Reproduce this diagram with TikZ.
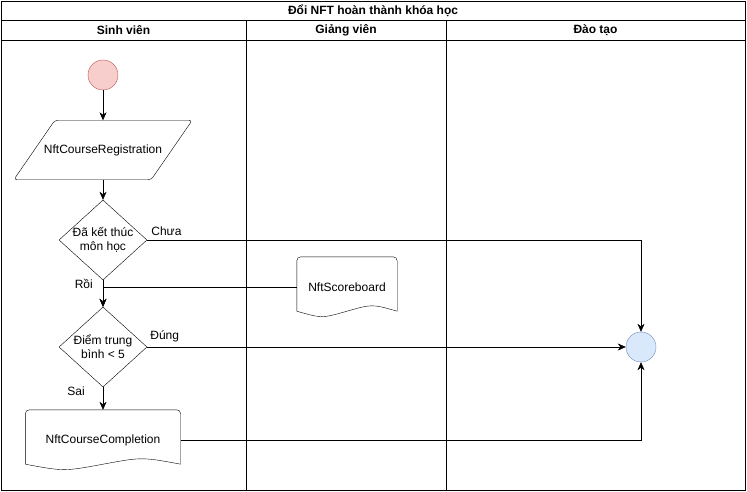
\documentclass[tikz,border=0pt]{standalone}
\usepackage{fontspec}
\setmainfont{Liberation Sans}
\usetikzlibrary{arrows.meta,shapes.geometric,positioning,calc}
\definecolor{startfill}{HTML}{F8CECC}
\definecolor{startline}{HTML}{B85450}
\definecolor{endfill}{HTML}{DAE8FC}
\definecolor{endline}{HTML}{6C8EBF}
\tikzset{
    lane/.style =   {draw=black,
                    line width=0.9pt},
    head/.style =   {font=\fontsize{12}{14}\selectfont\bfseries,
                    text=black,
                    inner sep=0pt},
    startpt/.style = {circle,
                    fill=startfill,
                    draw=startline,
                    minimum size=30pt,
                    inner sep=0pt},
    endpt/.style =  {circle,
                    fill=endfill,
                    draw=endline,
                    minimum size=30pt,
                    inner sep=0pt},
    decide/.style = {diamond,
                    draw=black,
                    minimum width=88pt,
                    minimum height=80pt,
                    inner sep=0pt},
    datain/.style = {rectangle,
                    minimum width=137pt,
                    minimum height=59pt,
                    inner sep=0pt},
    docu/.style =   {rectangle,
                    minimum height=60pt,
                    inner sep=0pt},
    elabel/.style = {inner sep=0pt,
                    text=black},
    -,
    >={Stealth[length=8pt,width=7pt,inset=2.5pt]},
    node distance=75pt}
% slanted input box round a node
\newcommand{\slantbox}[1]{%
    \draw[rounded corners=3pt] ($(#1.north)+(20.5,0)$) -- ($(#1.north east)+(20.5,0)$) -- ($(#1.south east)+(-20.5,0)$)
        -- ($(#1.south west)+(-20.5,0)$) -- ($(#1.north west)+(20.5,0)$) -- ($(#1.north)+(20.5,0)$);}
% document box with a wavy bottom
\newcommand{\wavybox}[1]{%
    \draw[rounded corners=4pt] ($(#1.south west)+(0,6)$) -- (#1.north west) -- (#1.north east) -- ($(#1.south east)+(0,6)$);
    \draw ($(#1.south east)+(0,6)$) .. controls ($(#1.south west)!0.75!(#1.south east)+(0,13.2)$) .. ($(#1.south)+(0,6)$)
        .. controls ($(#1.south west)!0.25!(#1.south east)+(0,-1.2)$) .. ($(#1.south west)+(0,6)$);}

\begin{document}
\begin{tikzpicture}[x=1pt,y=1pt,font=\fontsize{12}{14}\selectfont]
                \useasboundingbox (0,0) rectangle (747,-492);
                % pool and lanes
                \draw[lane] (1,-1) rectangle (745,-490);
                \draw[lane] (1,-20) -- (745,-20);
                \draw[lane] (1,-40) -- (745,-40);
                \draw[lane] (246,-20) -- (246,-490);
                \draw[lane] (446,-20) -- (446,-490);
                \node[head]         (pool)  at (373,-10.5)                                      {Đổi NFT hoàn thành khóa học};
                \node[head]         (sv)    at (123.5,-30)                                      {Sinh viên};
                \node[head]         (gv)    at (346,-30)                                        {Giảng viên};
                \node[head]         (dt)    at (595.5,-30)                                      {Đào tạo};

                \node[startpt]      (start) at (103,-75)                                        {};
                \node[datain]       (reg)   [below of=start]                                    {NftCourseRegistration};
                \node[decide]       (done)  [below of=reg,node distance=90pt,
                                             label={[align=center]center:Đã kết thúc\\môn học}]   {};
                \node[decide]       (avg)   [below of=done,node distance=107pt,
                                             label={[align=center]center:Điểm trung\\bình < 5}]   {};
                \node[docu,minimum width=155pt] (cert) [below of=avg,node distance=93pt]        {NftCourseCompletion};
                \node[docu,minimum width=100pt] (board) at (347,-287)                           {NftScoreboard};
                \node[endpt]        (finish) at (641,-347)                                      {};

                \slantbox{reg}
                \wavybox{board}
                \wavybox{cert}

                \path [->]      (start) edge []     (reg)
                                (reg)   edge []     (done)
                                (done)  edge []     (avg)
                                (avg)   edge []     (cert);
                \draw [->] (board.west) -| (avg.north);
                \draw [->] (done.east) -| (finish.north)
                        node [elabel,pos=0,anchor=base west,xshift=4pt,yshift=5pt]     {Chưa};
                \draw [->] (avg.east) -- (finish.west)
                        node [elabel,pos=0,anchor=base west,xshift=3pt,yshift=8pt]     {Đúng};
                \draw [->] (cert.east) -| (finish.south);
                \node [elabel,anchor=base east] (rlabel) at ($(done.south)+(-10,-8)$)    {Rồi};
                \node [elabel,anchor=base east] (slabel) at ($(avg.south)+(-18,-8)$)     {Sai};
\end{tikzpicture}
\end{document}
